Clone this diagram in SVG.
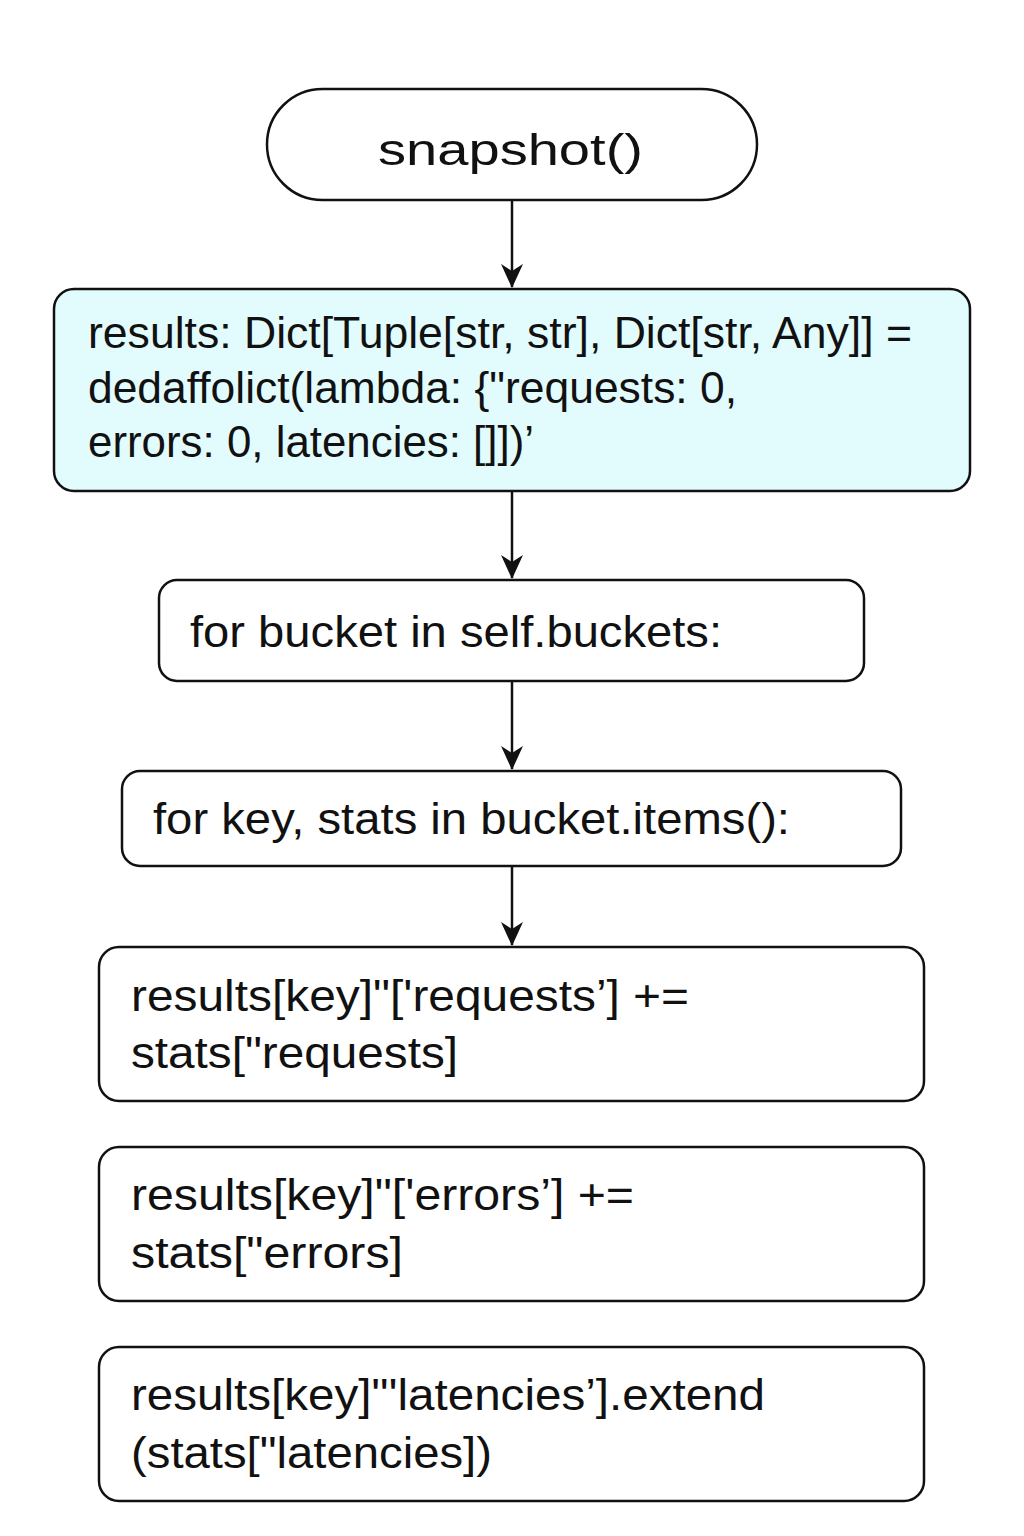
<svg xmlns="http://www.w3.org/2000/svg" width="1024" height="1536" viewBox="0 0 1024 1536">
<defs>
<marker id="ah" viewBox="0 0 24 22" refX="23" refY="11" markerWidth="24" markerHeight="22" markerUnits="userSpaceOnUse" orient="auto">
<path d="M0,0 L24,11 L0,22 L7,11 Z" fill="#111"/>
</marker>
<style>
.box{fill:#fff;stroke:#111;stroke-width:2.5}
.cyan{fill:#e2fbfd}
.t{font-family:"Liberation Sans",Arial,sans-serif;font-size:45px;fill:#111}
.edge{stroke:#111;stroke-width:2.5;fill:none;marker-end:url(#ah)}
</style>
</defs>
<rect width="1024" height="1536" fill="#fff"/>
<g id="connectors">
<line class="edge" x1="512" y1="200" x2="512" y2="287"/>
<line class="edge" x1="512" y1="491" x2="512" y2="578"/>
<line class="edge" x1="512" y1="681" x2="512" y2="769"/>
<line class="edge" x1="512" y1="866" x2="512" y2="945"/>
</g>
<g id="n1">
<rect class="box" x="267" y="89" width="490" height="111" rx="55.5"/>
<text class="t" x="378" y="165" font-size="48" textLength="265" lengthAdjust="spacingAndGlyphs">snapshot()</text>
</g>
<g id="n2">
<rect class="box cyan" x="54" y="289" width="916" height="202" rx="20"/>
<text class="t" x="88" y="348" textLength="824" lengthAdjust="spacingAndGlyphs">results: Dict[Tuple[str, str], Dict[str, Any]] =</text>
<text class="t" x="88" y="403" textLength="649" lengthAdjust="spacingAndGlyphs">dedaffolict(lambda: {"requests: 0,</text>
<text class="t" x="88" y="457" textLength="446" lengthAdjust="spacingAndGlyphs">errors: 0, latencies: []])’</text>
</g>
<g id="n3">
<rect class="box" x="159" y="580" width="705" height="101" rx="18"/>
<text class="t" x="190" y="647" textLength="532" lengthAdjust="spacingAndGlyphs">for bucket in self.buckets:</text>
</g>
<g id="n4">
<rect class="box" x="122" y="771" width="779" height="95" rx="18"/>
<text class="t" x="153" y="834" textLength="637" lengthAdjust="spacingAndGlyphs">for key, stats in bucket.items():</text>
</g>
<g id="n5">
<rect class="box" x="99" y="947" width="825" height="154" rx="20"/>
<text class="t" x="131" y="1011" textLength="558" lengthAdjust="spacingAndGlyphs">results[key]"['requests’] +=</text>
<text class="t" x="131" y="1068" textLength="327" lengthAdjust="spacingAndGlyphs">stats["requests]</text>
</g>
<g id="n6">
<rect class="box" x="99" y="1147" width="825" height="154" rx="20"/>
<text class="t" x="131" y="1210" textLength="503" lengthAdjust="spacingAndGlyphs">results[key]"['errors’] +=</text>
<text class="t" x="131" y="1268" textLength="272" lengthAdjust="spacingAndGlyphs">stats["errors]</text>
</g>
<g id="n7">
<rect class="box" x="99" y="1347" width="825" height="154" rx="20"/>
<text class="t" x="131" y="1410" textLength="634" lengthAdjust="spacingAndGlyphs">results[key]"'latencies’].extend</text>
<text class="t" x="131" y="1468" textLength="361" lengthAdjust="spacingAndGlyphs">(stats["latencies])</text>
</g>
</svg>
